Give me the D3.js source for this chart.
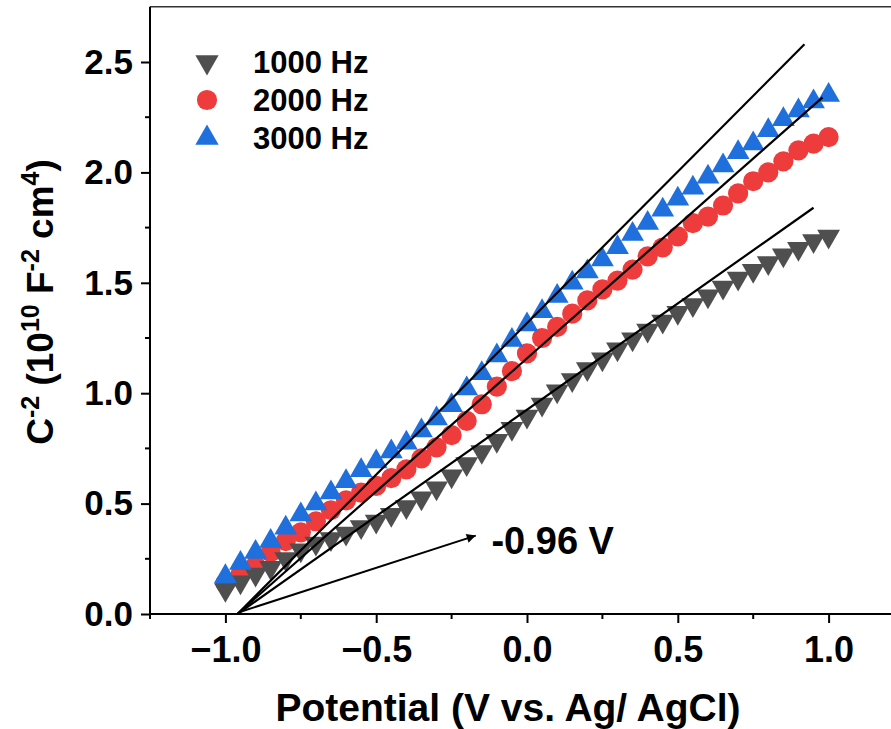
<!DOCTYPE html>
<html>
<head>
<meta charset="utf-8">
<script src="https://cdn.jsdelivr.net/npm/d3@7"></script>
<style>
  body { margin: 0; background: #fff; }
  svg { display: block; font-family: "Liberation Sans", Arial, sans-serif; font-weight: bold; }
</style>
</head>
<body>
<svg id="chart" width="891" height="729"></svg>
<script>
// potential (V vs Ag/AgCl), -1.0 .. 1.0
var potential = [-1.00,-0.95,-0.90,-0.85,-0.80,-0.75,-0.70,-0.65,-0.60,-0.55,-0.50,-0.45,-0.40,-0.35,-0.30,-0.25,-0.20,-0.15,-0.10,-0.05,
  0.00,0.05,0.10,0.15,0.20,0.25,0.30,0.35,0.40,0.45,0.50,0.55,0.60,0.65,0.70,0.75,0.80,0.85,0.90,0.95,1.00];

var hz1000 = [0.11,0.145,0.18,0.21,0.25,0.29,0.32,0.34,0.365,0.395,0.42,0.45,0.485,0.525,0.57,0.625,0.68,0.735,0.785,0.84,
  0.895,0.95,1.01,1.06,1.11,1.155,1.20,1.245,1.285,1.325,1.365,1.40,1.44,1.48,1.52,1.555,1.59,1.625,1.655,1.69,1.71];

var hz2000 = [0.14,0.18,0.22,0.28,0.33,0.37,0.42,0.47,0.515,0.55,0.58,0.615,0.655,0.705,0.755,0.81,0.875,0.95,1.03,1.10,
  1.18,1.25,1.30,1.36,1.42,1.47,1.51,1.56,1.62,1.66,1.71,1.77,1.80,1.85,1.905,1.96,2.00,2.05,2.10,2.13,2.16];

var hz3000 = [0.17,0.23,0.28,0.33,0.39,0.45,0.50,0.55,0.60,0.65,0.69,0.735,0.775,0.83,0.885,0.945,1.02,1.09,1.17,1.24,
  1.31,1.37,1.44,1.50,1.55,1.605,1.66,1.72,1.77,1.83,1.88,1.93,1.98,2.03,2.09,2.13,2.19,2.24,2.28,2.32,2.35];

// linear fits (start, end) for each frequency
var fit1000 = [[-0.96, 0], [0.95, 1.84]];
var fit2000 = [[-0.96, 0], [0.98, 2.34]];
var fit3000 = [[-0.96, 0], [0.92, 2.58]];

var xTicks = [-1.0, -0.5, 0.0, 0.5, 1.0];
var xMinor = [-1.25, -0.75, -0.25, 0.25, 0.75, 1.25];
var yTicks = [0.0, 0.5, 1.0, 1.5, 2.0, 2.5];
var yMinor = [0.25, 0.75, 1.25, 1.75, 2.25];

var arrowFrom = [-0.95, 0.01], arrowTo = [-0.17, 0.355];
var noteText = "-0.96 V", notePos = [-0.118, 0.274];

var series = [
  {name: "2000 Hz", values: hz2000, color: "#ee3b3b", shape: "circle"},
  {name: "1000 Hz", values: hz1000, color: "#4f4f4f", shape: "down"},
  {name: "3000 Hz", values: hz3000, color: "#1f6fdc", shape: "up"}
];
var legendOrder = ["1000 Hz", "2000 Hz", "3000 Hz"];

var svg = d3.select("#chart");
var x = d3.scaleLinear().domain([-1.25, 1.25]).range([150, 904]);
var y = d3.scaleLinear().domain([0, 2.75]).range([614, 6.8]);

function symbolPath(shape) {
  if (shape === "circle") return d3.symbol(d3.symbolCircle, 320)();
  return d3.symbol(d3.symbolTriangle, 225)();
}
function rot(shape) { return shape === "down" ? " rotate(180)" : ""; }

// frame
svg.append("line").attr("x1", x(-1.25)).attr("x2", 891).attr("y1", y(2.75)).attr("y2", y(2.75))
  .attr("stroke", "#333").attr("stroke-width", 1.5);

// axes
var xAxis = d3.axisBottom(x).tickValues(xTicks).tickSize(9).tickPadding(13)
  .tickFormat(function(d){ return d3.format(".1f")(d).replace("-", "\u2212"); });
var gx = svg.append("g").attr("transform", "translate(0," + y(0) + ")").call(xAxis);
gx.select(".domain").remove();
gx.append("line").attr("x1", x(-1.25)).attr("x2", 904).attr("stroke", "#000").attr("stroke-width", 2);
gx.selectAll(".tick line").attr("stroke-width", 2);
gx.selectAll(".tick text").attr("font-size", 36).attr("font-weight", "bold").attr("fill", "#000")
  .attr("font-family", "Liberation Sans, Arial, sans-serif");
gx.selectAll(".minor").data(xMinor).enter().append("line").attr("class", "minor")
  .attr("x1", function(d){ return x(d); }).attr("x2", function(d){ return x(d); })
  .attr("y1", 0).attr("y2", 5).attr("stroke", "#000").attr("stroke-width", 2);

var yAxis = d3.axisLeft(y).tickValues(yTicks).tickSize(9).tickPadding(8).tickFormat(d3.format(".1f"));
var gy = svg.append("g").attr("transform", "translate(" + x(-1.25) + ",0)").call(yAxis);
gy.select(".domain").remove();
gy.append("line").attr("y1", y(0) + 1).attr("y2", y(2.75)).attr("stroke", "#000").attr("stroke-width", 2);
gy.selectAll(".tick line").attr("stroke-width", 2);
gy.selectAll(".tick text").attr("font-size", 35).attr("font-weight", "bold").attr("fill", "#000")
  .attr("font-family", "Liberation Sans, Arial, sans-serif");
gy.selectAll(".minor").data(yMinor).enter().append("line").attr("class", "minor")
  .attr("y1", function(d){ return y(d); }).attr("y2", function(d){ return y(d); })
  .attr("x1", 0).attr("x2", -5).attr("stroke", "#000").attr("stroke-width", 2);

// points
series.forEach(function(s) {
  svg.append("g").selectAll("path").data(s.values).enter().append("path")
    .attr("d", symbolPath(s.shape))
    .attr("transform", function(d, i){ return "translate(" + x(potential[i]) + "," + y(d) + ")" + rot(s.shape); })
    .attr("fill", s.color);
});

// fit lines
[fit1000, fit2000, fit3000].forEach(function(f) {
  svg.append("line")
    .attr("x1", x(f[0][0])).attr("y1", y(f[0][1]))
    .attr("x2", x(f[1][0])).attr("y2", y(f[1][1]))
    .attr("stroke", "#000").attr("stroke-width", 2.2);
});

// arrow annotation
svg.append("defs").append("marker").attr("id", "head")
  .attr("viewBox", "0 0 10 10").attr("refX", 10).attr("refY", 5)
  .attr("markerWidth", 6).attr("markerHeight", 4.5).attr("markerUnits", "strokeWidth")
  .attr("orient", "auto")
  .append("path").attr("d", "M0,0 L10,5 L0,10 Z").attr("fill", "#000");
svg.append("line")
  .attr("x1", x(arrowFrom[0])).attr("y1", y(arrowFrom[1]))
  .attr("x2", x(arrowTo[0])).attr("y2", y(arrowTo[1]))
  .attr("stroke", "#000").attr("stroke-width", 2).attr("marker-end", "url(#head)");
svg.append("text").attr("x", x(notePos[0])).attr("y", y(notePos[1]))
  .attr("font-size", 38).text(noteText);

// legend
var lg = svg.append("g");
legendOrder.forEach(function(name, i) {
  var s = series.filter(function(d){ return d.name === name; })[0];
  var ly = 62 + i * 38;
  lg.append("path").attr("d", s.shape === "circle" ? d3.symbol(d3.symbolCircle, 320)() : d3.symbol(d3.symbolTriangle, 235)())
    .attr("transform", "translate(207," + ly + ")" + rot(s.shape)).attr("fill", s.color);
  lg.append("text").attr("x", 253).attr("y", ly + 11).attr("font-size", 31).text(name);
});

// axis titles
svg.append("text").attr("x", 508).attr("y", 721).attr("text-anchor", "middle").attr("font-size", 39)
  .text("Potential (V vs. Ag/ AgCl)");

var yt = svg.append("text").attr("transform", "translate(53,302) rotate(-90)").attr("text-anchor", "middle")
  .attr("font-size", 37);
yt.append("tspan").text("C");
yt.append("tspan").attr("dy", -14).attr("font-size", 25).text("-2");
yt.append("tspan").attr("dy", 14).text(" (10");
yt.append("tspan").attr("dy", -14).attr("font-size", 25).text("10");
yt.append("tspan").attr("dy", 14).text(" F");
yt.append("tspan").attr("dy", -14).attr("font-size", 25).text("-2");
yt.append("tspan").attr("dy", 14).text(" cm");
yt.append("tspan").attr("dy", -14).attr("font-size", 25).text("4");
yt.append("tspan").attr("dy", 14).text(")");
</script>
</body>
</html>
